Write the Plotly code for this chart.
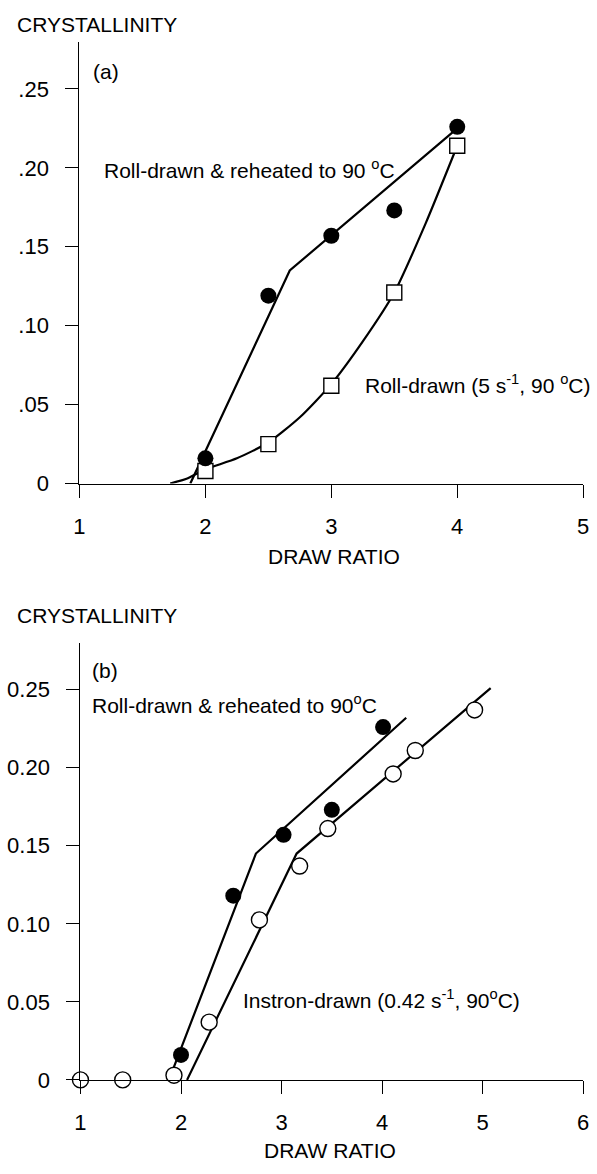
import plotly.graph_objects as go

W, H = 597, 1174

# ---- data: panel (a) ----
a_draw_ratio = [2.0, 2.5, 3.0, 3.5, 4.0]
a_reheated = [0.016, 0.119, 0.157, 0.173, 0.226]
a_roll = [0.008, 0.025, 0.062, 0.121, 0.214]
a_reheated_fit_x = [1.88, 2.67, 4.0]
a_reheated_fit_y = [0.0, 0.135, 0.225]
a_roll_fit_x = [1.72, 1.85, 2.0, 2.25, 2.5, 2.75, 3.0, 3.25, 3.5, 3.75, 4.0]
a_roll_fit_y = [0.0, 0.003, 0.009, 0.016, 0.026, 0.042, 0.063, 0.090, 0.121, 0.165, 0.214]

# ---- data: panel (b) ----
b_reheated_x = [2.0, 2.52, 3.02, 3.5, 4.01]
b_reheated_y = [0.016, 0.118, 0.157, 0.173, 0.226]
b_instron_x = [1.0, 1.42, 1.93, 2.28, 2.78, 3.18, 3.46, 4.11, 4.33, 4.92]
b_instron_y = [0.0, 0.0, 0.003, 0.037, 0.1025, 0.137, 0.161, 0.196, 0.211, 0.237]
b_reheated_fit_x = [1.88, 2.745, 4.24]
b_reheated_fit_y = [0.0, 0.145, 0.232]
b_instron_fit_x = [2.06, 3.15, 5.08]
b_instron_fit_y = [0.0, 0.145, 0.251]

# ---- tick labels ----
y_tickvals = [0, 0.05, 0.10, 0.15, 0.20, 0.25]
a_y_ticktext = ["0", ".05", ".10", ".15", ".20", ".25"]
b_y_ticktext = ["0", "0.05", "0.10", "0.15", "0.20", "0.25"]
a_x_tickvals = [1, 2, 3, 4, 5]
b_x_tickvals = [1, 2, 3, 4, 5, 6]

FONT = "Liberation Sans, Arial, sans-serif"
TICK_FONT = dict(family=FONT, size=22, color="black")
TEXT_FONT = dict(family=FONT, size=21, color="black")


def px_x(p):
    return p / W


def px_y(p):
    return 1 - p / H


fig = go.Figure()

fit_line = dict(color="black", width=2.2)
filled = dict(symbol="circle", size=16, color="black", line=dict(width=0))
open_circle = dict(symbol="circle", size=16, color="white", line=dict(color="black", width=1.4))
open_square = dict(symbol="square", size=15, color="white", line=dict(color="black", width=1.4))

# panel (a)
fig.add_trace(go.Scatter(x=a_reheated_fit_x, y=a_reheated_fit_y, mode="lines",
                         line=fit_line, xaxis="x", yaxis="y"))
fig.add_trace(go.Scatter(x=a_roll_fit_x, y=a_roll_fit_y, mode="lines",
                         line=dict(fit_line, shape="spline", smoothing=0.6),
                         xaxis="x", yaxis="y"))
fig.add_trace(go.Scatter(x=a_draw_ratio, y=a_roll, mode="markers", marker=open_square,
                         xaxis="x", yaxis="y", cliponaxis=False))
fig.add_trace(go.Scatter(x=a_draw_ratio, y=a_reheated, mode="markers", marker=filled,
                         xaxis="x", yaxis="y", cliponaxis=False))

# panel (b)
fig.add_trace(go.Scatter(x=b_reheated_fit_x, y=b_reheated_fit_y, mode="lines",
                         line=fit_line, xaxis="x2", yaxis="y2"))
fig.add_trace(go.Scatter(x=b_instron_fit_x, y=b_instron_fit_y, mode="lines",
                         line=fit_line, xaxis="x2", yaxis="y2"))
fig.add_trace(go.Scatter(x=b_reheated_x, y=b_reheated_y, mode="markers", marker=filled,
                         xaxis="x2", yaxis="y2", cliponaxis=False))
fig.add_trace(go.Scatter(x=b_instron_x, y=b_instron_y, mode="markers", marker=open_circle,
                         xaxis="x2", yaxis="y2", cliponaxis=False))

axis_common = dict(showgrid=False, zeroline=False, showline=True, linecolor="black",
                   linewidth=1.3, ticks="outside", ticklen=13, tickwidth=1.3,
                   tickcolor="black", tickfont=TICK_FONT)

fig.update_layout(
    width=W, height=H,
    margin=dict(l=0, r=0, t=0, b=0),
    paper_bgcolor="white", plot_bgcolor="white",
    showlegend=False,
    xaxis=dict(axis_common, domain=[px_x(75), px_x(589)], range=[1, 5],
               tickvals=a_x_tickvals, anchor="y", ticklabelstandoff=10),
    yaxis=dict(axis_common, domain=[px_y(489), px_y(42)], range=[0, 0.28],
               tickvals=y_tickvals, ticktext=a_y_ticktext, anchor="x", ticklabelstandoff=12),
    xaxis2=dict(axis_common, domain=[px_x(76), px_x(589)], range=[1, 6],
                tickvals=b_x_tickvals, anchor="y2", ticklabelstandoff=10),
    yaxis2=dict(axis_common, domain=[px_y(1092), px_y(650)], range=[0, 0.28],
                tickvals=y_tickvals, ticktext=b_y_ticktext, anchor="x2", ticklabelstandoff=12),
)

annotations = [
    # axis titles
    dict(text="CRYSTALLINITY", x=px_x(9), y=px_y(25), xref="paper", yref="paper",
         xanchor="left", yanchor="middle", font=TEXT_FONT),
    dict(text="DRAW RATIO", x=px_x(335), y=px_y(563), xref="paper", yref="paper",
         xanchor="center", yanchor="middle", font=TEXT_FONT),
    dict(text="CRYSTALLINITY", x=px_x(9), y=px_y(622), xref="paper", yref="paper",
         xanchor="left", yanchor="middle", font=TEXT_FONT),
    dict(text="DRAW RATIO", x=px_x(331), y=px_y(1163), xref="paper", yref="paper",
         xanchor="center", yanchor="middle", font=TEXT_FONT),
    # panel (a) labels
    dict(text="(a)", x=1.095, y=0.261, xref="x", yref="y",
         xanchor="left", yanchor="middle", font=TEXT_FONT),
    dict(text="Roll-drawn &amp; reheated to 90 <sup>o</sup>C", x=1.175, y=0.199,
         xref="x", yref="y", xanchor="left", yanchor="middle", font=TEXT_FONT),
    dict(text="Roll-drawn (5 s<sup>-1</sup>, 90 <sup>o</sup>C)", x=3.25, y=0.063,
         xref="x", yref="y", xanchor="left", yanchor="middle", font=TEXT_FONT),
    # panel (b) labels
    dict(text="(b)", x=1.09, y=0.262, xref="x2", yref="y2",
         xanchor="left", yanchor="middle", font=TEXT_FONT),
    dict(text="Roll-drawn &amp; reheated to 90<sup>o</sup>C", x=1.09, y=0.241,
         xref="x2", yref="y2", xanchor="left", yanchor="middle", font=TEXT_FONT),
    dict(text="Instron-drawn (0.42 s<sup>-1</sup>, 90<sup>o</sup>C)", x=2.60, y=0.052,
         xref="x2", yref="y2", xanchor="left", yanchor="middle", font=TEXT_FONT),
]
for a in annotations:
    a["showarrow"] = False
fig.update_layout(annotations=annotations)

fig.write_html("out.html")
